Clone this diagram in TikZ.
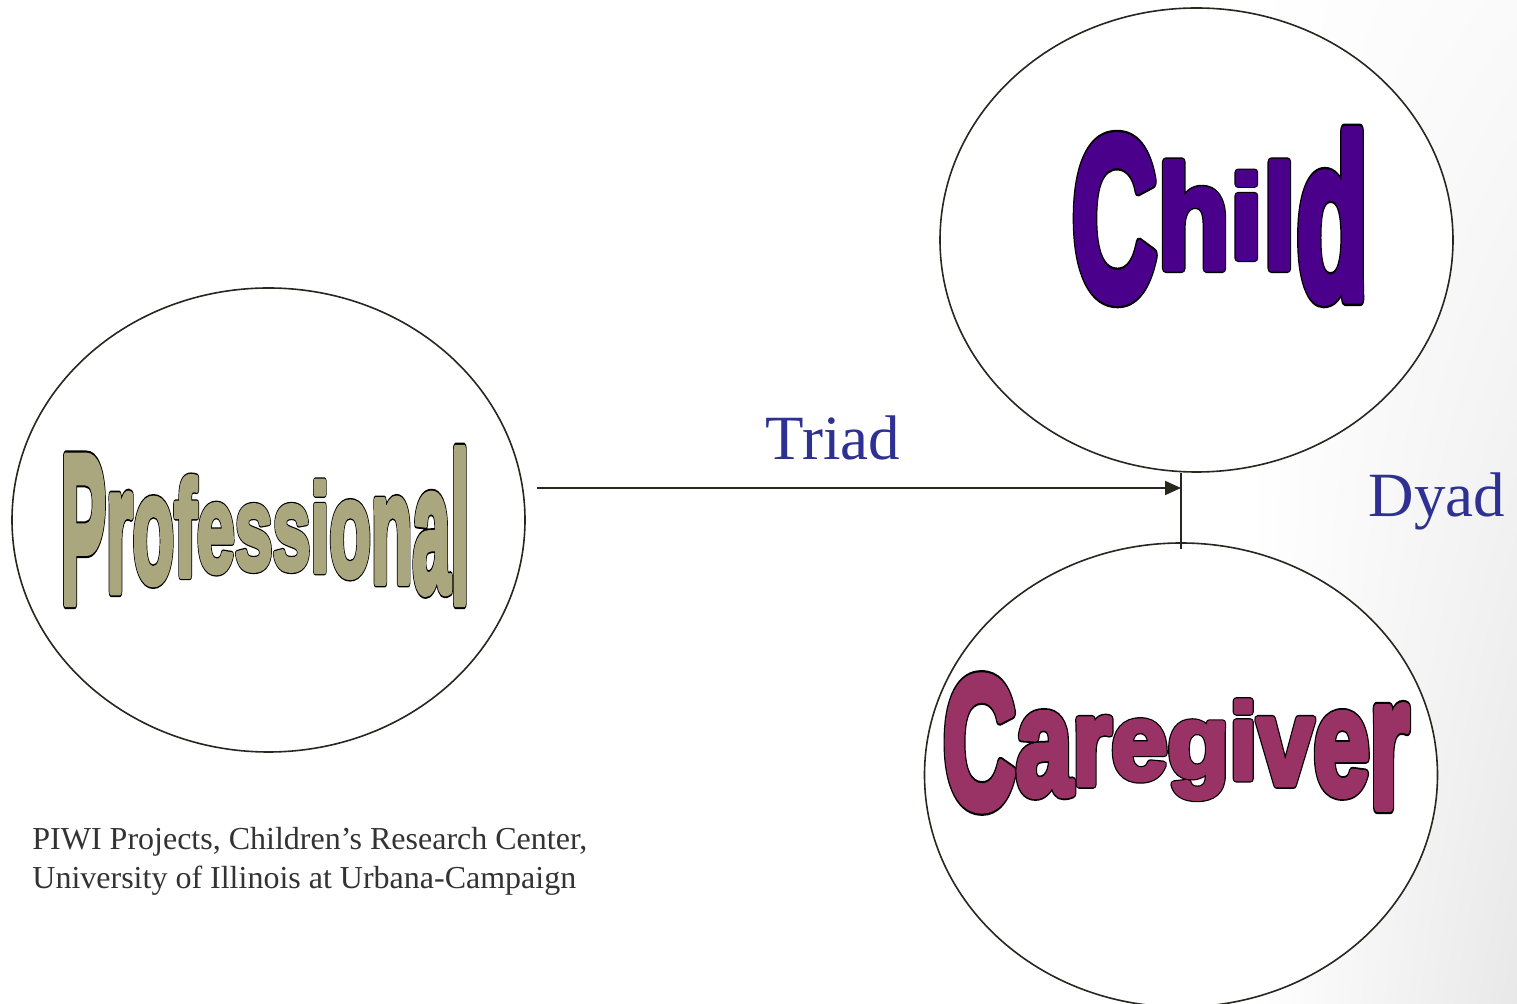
\documentclass[tikz,border=0pt]{standalone}
\usepackage{fontspec}
\usepackage{graphicx}
\usepackage{xcolor}
\usetikzlibrary{positioning,shapes.geometric,arrows.meta,shadings}
\setmainfont{Liberation Serif}
\newfontfamily\artfont{Liberation Sans}

\definecolor{profcol}{RGB}{170,166,125}
\definecolor{childcol}{RGB}{75,0,140}
\definecolor{carecol}{RGB}{153,51,102}
\definecolor{labelblue}{RGB}{46,49,146}
\definecolor{footgray}{RGB}{51,51,51}
\definecolor{linecol}{RGB}{40,38,30}

% fat letter with a thin black rim (#1 = stroke rgb of the fill)
\newcommand\artletter[2]{%
  \rlap{#2}\special{pdf:literal direct 0 G 2 Tr 3.7 w 1 j}\rlap{#2}%
  \special{pdf:literal direct #1 RG 2.5 w}#2\special{pdf:literal direct 0 Tr}}
% letters stretched more towards both ends of the word
\newcommand\warpword[5]{%
  \foreach \ch [count=\i] in {#1}{%
    \pgfmathsetmacro\tpos{(\i-(#2+1)/2)/((#2-1)/2)}%
    \pgfmathsetmacro\sy{1+#3*\tpos*\tpos}%
    \pgfmathsetmacro\dy{(1-\sy)*#4}%
    \raisebox{\dy pt}{\scalebox{1}[\sy]{\artletter{#5}{\ch}}}}}

\begin{document}
\begin{tikzpicture}[x=0.5pt, y=-0.5pt,
  bubble/.style={draw=linecol, line width=0.8pt, fill=white, ellipse,
    minimum width=256.5pt, minimum height=232pt, inner sep=0pt},
  art/.style={inner sep=0pt, font=\artfont\bfseries},
  lbl/.style={text=labelblue, font=\fontsize{31.5}{36}\selectfont, inner sep=0pt},
  link/.style={draw=linecol, line width=1pt},
  >={Triangle[length=8pt,width=7pt]}]
\useasboundingbox (0,0) rectangle (1517,1004);
\shade[upper left=white, upper right=black!2, lower left=white, lower right=black!9]
  (1250,0) rectangle (1517,1004);

\node[bubble] (prof) at (268.5,520) {};
\node[bubble] (child) at (1196.5,240) {};
\node[bubble] (care) at (1181,775) {};

\node[art, text=profcol] (profword) at (265,526) {\fontsize{58.7}{59}\selectfont
  \scalebox{0.58}[1]{\warpword{P,r,o,f,e,s,s,i,o,n,a,l}{12}{0.8}{21}{0.667 0.651 0.49}}};
\node[art, text=childcol] (childword) at (1220,216) {\fontsize{59.4}{60}\selectfont
  \scalebox{1.0}[1]{\warpword{C,h,i,l,d}{5}{0.95}{21.3}{0.294 0 0.549}}};
\node[art, text=carecol] (careword) at (1176,743) {\fontsize{51}{52}\selectfont
  \scalebox{0.99}[1]{\warpword{C,a,r,e,g,i,v,e,r}{9}{0.83}{18.3}{0.6 0.2 0.4}}};

\coordinate (tstart) at (537,488);
\coordinate (dyadtop) at (care.north |- child.south);
\coordinate (dyadbot) at ([yshift=-3.5pt]care.north);
\draw[link] (dyadtop) -- (dyadbot);
\draw[link,->] (tstart) -- (tstart -| dyadtop);

\node[lbl] (triad) at (833,438) {Triad};
\node[lbl] (dyad) at (1437,501) {Dyad};

\node[anchor=north west, inner sep=0pt, align=left, text=footgray,
  font=\fontsize{16}{19.5}\selectfont] (credit) at (32,827)
  {PIWI Projects, Children’s Research Center,\\University of Illinois at Urbana-Campaign};
\end{tikzpicture}
\end{document}
